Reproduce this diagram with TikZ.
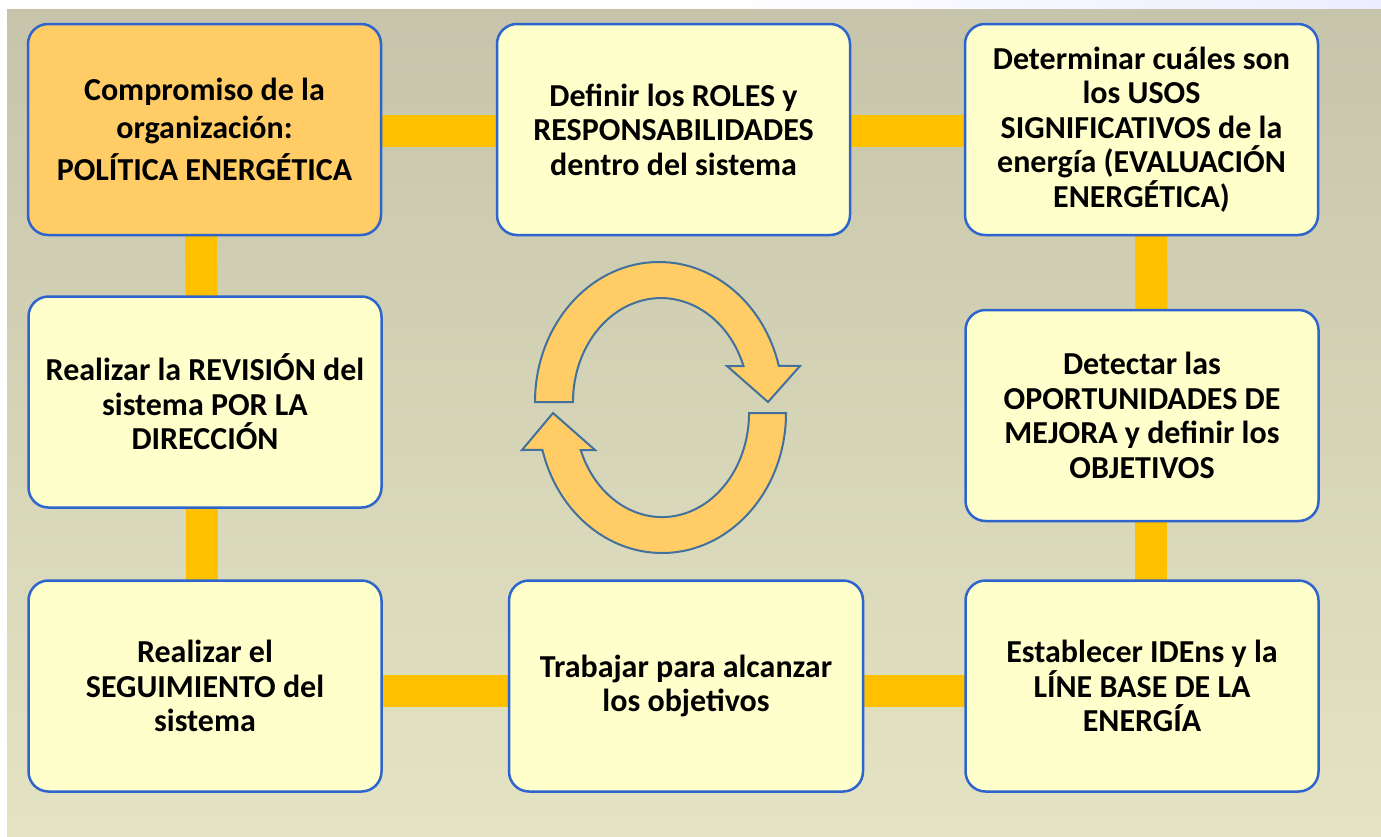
\documentclass[tikz,border=0pt]{standalone}
\usepackage{fontspec}
\setmainfont{Carlito}
\usepackage{xcolor}
\usetikzlibrary{backgrounds}
\definecolor{bgtop}{RGB}{198,196,170}
\definecolor{bgbot}{RGB}{228,228,196}
\definecolor{boxfill}{RGB}{255,255,204}
\definecolor{boxblue}{RGB}{45,100,205}
\definecolor{orangefill}{RGB}{255,204,102}
\definecolor{barra}{RGB}{255,192,0}
\definecolor{arrowline}{RGB}{65,113,156}

\begin{document}
\begin{tikzpicture}[
  x=1pt, y=-1pt,
  every node/.style={font=\fontsize{32}{34.5}\selectfont\bfseries},
  etapa/.style={draw=boxblue, line width=2.5pt, fill=boxfill, rounded corners=20pt,
    minimum width=353pt, minimum height=211pt, inner sep=0pt, align=center},
  enlace/.style={draw=barra, line width=32pt},
  flecha/.style={fill=orangefill, draw=arrowline, line width=2pt, line join=miter}
]
\useasboundingbox (0,0) rectangle (1381,836);

\node[etapa, fill=orangefill, font=\fontsize{32}{38}\selectfont\bfseries] (pol) at (204.5,129.5)
  {Compromiso de la\\organización:\\[4pt]POLÍTICA ENERGÉTICA};
\node[etapa] (rol) at (673.5,129.5) {Definir los ROLES y\\RESPONSABILIDADES\\dentro del sistema};
\node[etapa] (usos) at (1141.5,129.5)
  {Determinar cuáles son\\los USOS\\SIGNIFICATIVOS de la\\energía (EVALUACIÓN\\ENERGÉTICA)};
\node[etapa] (rev) at (205,402) {Realizar la REVISIÓN del\\sistema POR LA\\DIRECCIÓN};
\node[etapa] (opor) at (1142,415.5)
  {Detectar las\\OPORTUNIDADES DE\\MEJORA y definir los\\OBJETIVOS};
\node[etapa] (seg) at (205,686) {Realizar el\\SEGUIMIENTO del\\sistema};
\node[etapa, minimum width=354pt] (trab) at (686,686) {Trabajar para alcanzar\\los objetivos};
\node[etapa] (iden) at (1142,686) {Establecer IDEns y la\\LÍNE BASE DE LA\\ENERGÍA};

\begin{scope}[on background layer]
  \fill[white] (0,0) rectangle (1381,836);
  \shade[left color=white, right color=blue!7] (700,0) rectangle (1381,9);
  \shade[top color=bgtop, bottom color=bgbot] (7,9) rectangle (1381,836);
  \draw[enlace] ([yshift=-1.5pt]pol.center) -- ([yshift=-1.5pt]rol.center);
  \draw[enlace] ([yshift=-1.5pt]rol.center) -- ([yshift=-1.5pt]usos.center);
  \draw[enlace] ([xshift=9.5pt]usos.center) -- ([xshift=9.5pt]opor.center);
  \draw[enlace] ([xshift=9pt]opor.center) -- ([xshift=9pt]iden.center);
  \draw[enlace] ([yshift=-5pt]iden.center) -- ([yshift=-5pt]trab.center);
  \draw[enlace] ([yshift=-5pt]trab.center) -- ([yshift=-5pt]seg.center);
  \draw[enlace] ([xshift=-3.5pt]seg.center) -- ([xshift=-3.5pt]rev.center);
  \draw[enlace] ([xshift=-3.5pt]rev.center) -- ([xshift=-3.5pt]pol.center);
\end{scope}

\draw[flecha] (535,402) arc[start angle=180, end angle=345, x radius=124, y radius=140]
  -- (800,366) -- (768,402) -- (727,366) -- (743.5,366)
  arc[start angle=339.7, end angle=180, x radius=88, y radius=104] -- cycle;
\draw[flecha] (786,413) arc[start angle=0, end angle=164.7, x radius=124, y radius=140]
  -- (522,450) -- (553,413) -- (595,450) -- (580.7,450)
  arc[start angle=159.2, end angle=0, x radius=87, y radius=104] -- cycle;
\end{tikzpicture}
\end{document}
